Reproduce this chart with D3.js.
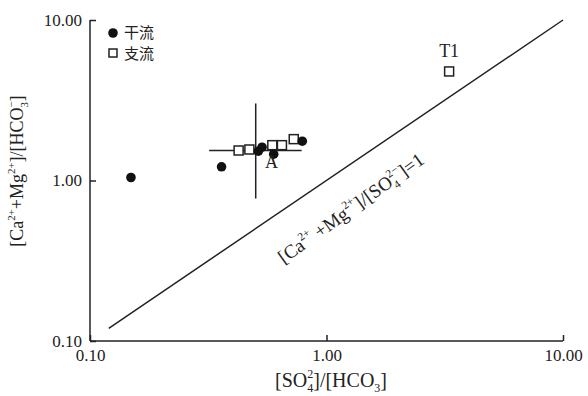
<!DOCTYPE html>
<html lang="zh">
<head>
<meta charset="utf-8">
<script src="https://d3js.org/d3.v7.min.js"></script>
<style>
    body { margin: 0; background: #fff; }
    svg text { font-family: "Liberation Serif", "Times New Roman", serif; fill: #222; }
    .axis path, .axis line { stroke: #222; stroke-width: 1.5; }
    .axis text { font-size: 17px; }
    .cjk { font-family: "Noto Sans CJK SC", sans-serif !important; }
</style>
</head>
<body>
<div id="canvas"></div>
<script>
// 干流 (main stream) points: [SO4/HCO3, (Ca+Mg)/HCO3]
var mainX = [0.149, 0.360, 0.515, 0.534, 0.598, 0.790];
var mainY = [1.044, 1.217, 1.522, 1.612, 1.458, 1.757];
// 支流 (tributary) points
var tribX = [0.425, 0.472, 0.590, 0.648, 0.727, 3.30];
var tribY = [1.538, 1.560, 1.660, 1.660, 1.810, 4.78];
// mean point A with range bars
var barX = [0.319, 0.502, 0.785];
var barY = [0.772, 1.538, 3.02];
var lineXY = [0.12, 10];
var ticks = [0.1, 1, 10];

var W = 588, H = 396;
var margin = {top: 20, right: 25, bottom: 55, left: 90};
var width = W - margin.left - margin.right;
var height = H - margin.top - margin.bottom;

var svg = d3.select("#canvas").append("svg")
    .attr("width", W).attr("height", H);
var g = svg.append("g")
    .attr("transform", "translate(" + margin.left + "," + margin.top + ")");

var x = d3.scaleLog().domain([0.1, 10]).range([0, width]);
var y = d3.scaleLog().domain([0.1, 10]).range([height, 0]);

g.append("g")
    .attr("class", "axis")
    .attr("transform", "translate(0," + height + ")")
    .call(d3.axisBottom(x).tickValues(ticks).tickFormat(d3.format(".2f"))
        .tickSizeInner(-6).tickSizeOuter(0).tickPadding(8))
    .call(function (s) { s.select(".domain").attr("d", "M0,0H" + width); });

g.append("g")
    .attr("class", "axis")
    .call(d3.axisLeft(y).tickValues(ticks).tickFormat(d3.format(".2f"))
        .tickSizeInner(-6).tickSizeOuter(0).tickPadding(8))
    .call(function (s) { s.select(".domain").attr("d", "M0," + height + "V0"); });

// 1:1 line
g.append("line")
    .attr("x1", x(lineXY[0])).attr("y1", y(lineXY[0]))
    .attr("x2", x(lineXY[1])).attr("y2", y(lineXY[1]))
    .attr("stroke", "#222").attr("stroke-width", 1.5);

// range bars
g.append("line")
    .attr("x1", x(barX[1])).attr("x2", x(barX[1]))
    .attr("y1", y(barY[0])).attr("y2", y(barY[2]))
    .attr("stroke", "#222").attr("stroke-width", 1.5);
g.append("line")
    .attr("x1", x(barX[0])).attr("x2", x(barX[2]))
    .attr("y1", y(barY[1])).attr("y2", y(barY[1]))
    .attr("stroke", "#222").attr("stroke-width", 1.5);

g.selectAll(".trib")
    .data(d3.zip(tribX, tribY))
    .enter().append("rect")
    .attr("class", "trib")
    .attr("x", function (d) { return x(d[0]) - 4.5; })
    .attr("y", function (d) { return y(d[1]) - 4.5; })
    .attr("width", 9).attr("height", 9)
    .attr("fill", "#fff").attr("stroke", "#222").attr("stroke-width", 1.5);

g.selectAll(".main")
    .data(d3.zip(mainX, mainY))
    .enter().append("circle")
    .attr("class", "main")
    .attr("cx", function (d) { return x(d[0]); })
    .attr("cy", function (d) { return y(d[1]); })
    .attr("r", 4.8).attr("fill", "#111");

// point labels
g.append("text").attr("x", x(0.55)).attr("y", y(1.2))
    .attr("font-size", 18).text("A");
g.append("text").attr("x", x(3.3)).attr("y", y(4.78) - 14)
    .attr("text-anchor", "middle").attr("font-size", 18).text("T1");

// legend
var leg = g.append("g").attr("transform", "translate(23,13)");
leg.append("circle").attr("cx", 0).attr("cy", 0).attr("r", 4.8).attr("fill", "#111");
leg.append("text").attr("class", "cjk").attr("x", 11).attr("y", 5)
    .attr("font-size", 15).text("干流");
leg.append("rect").attr("x", -4).attr("y", 16).attr("width", 8).attr("height", 8)
    .attr("fill", "#fff").attr("stroke", "#222").attr("stroke-width", 1.5);
leg.append("text").attr("class", "cjk").attr("x", 11).attr("y", 26)
    .attr("font-size", 15).text("支流");

// chemistry labels: [text, type, extra] with type n / sup / sub / subsup
function chem(t, parts, size) {
    var small = size * 0.6, pending = 0;
    parts.forEach(function (p) {
        if (p[1] === "n") {
            t.append("tspan").attr("font-size", size).attr("dy", pending).text(p[0]);
            pending = 0;
        } else if (p[1] === "sup") {
            t.append("tspan").attr("font-size", small).attr("dy", pending - size * 0.45).text(p[0]);
            pending = size * 0.45;
        } else if (p[1] === "sub") {
            t.append("tspan").attr("font-size", small).attr("dy", pending + size * 0.25).text(p[0]);
            pending = -size * 0.25;
        } else if (p[1] === "subsup") {
            t.append("tspan").attr("font-size", small).attr("dy", pending + size * 0.25).text(p[0]);
            t.append("tspan").attr("font-size", small).attr("dx", -small * 0.5)
                .attr("dy", -size * 0.7).text(p[2]);
            pending = size * 0.45;
        }
    });
}

// x title
var xt = svg.append("text")
    .attr("x", 331).attr("y", 387)
    .attr("text-anchor", "middle");
chem(xt, [["[SO", "n"], ["4", "subsup", "2"], ["]/[HCO", "n"], ["3", "sub"], ["]", "n"]], 20);

// y title
var yt = svg.append("text")
    .attr("transform", "translate(23,171) rotate(-90)")
    .attr("text-anchor", "middle");
chem(yt, [["[Ca", "n"], ["2+", "sup"], ["+Mg", "n"], ["2+", "sup"], ["]/[HCO", "n"], ["3", "subsup", "\u2212"], ["]", "n"]], 18);

// line label, placed along the 1:1 line
var ang = Math.atan2(y(1) - y(10), x(10) - x(1)) * 180 / Math.PI;
var lt = g.append("text")
    .attr("transform", "translate(" + (x(1.45) - 10) + "," + (y(0.68) + 6) + ") rotate(" + (-ang - 1.5) + ")")
    .attr("text-anchor", "middle");
chem(lt, [["[Ca", "n"], ["2+", "sup"], [" +Mg", "n"], ["2+", "sup"], ["]/[SO", "n"], ["4", "subsup", "2\u2212"], ["]=1", "n"]], 19);
</script>
</body>
</html>
